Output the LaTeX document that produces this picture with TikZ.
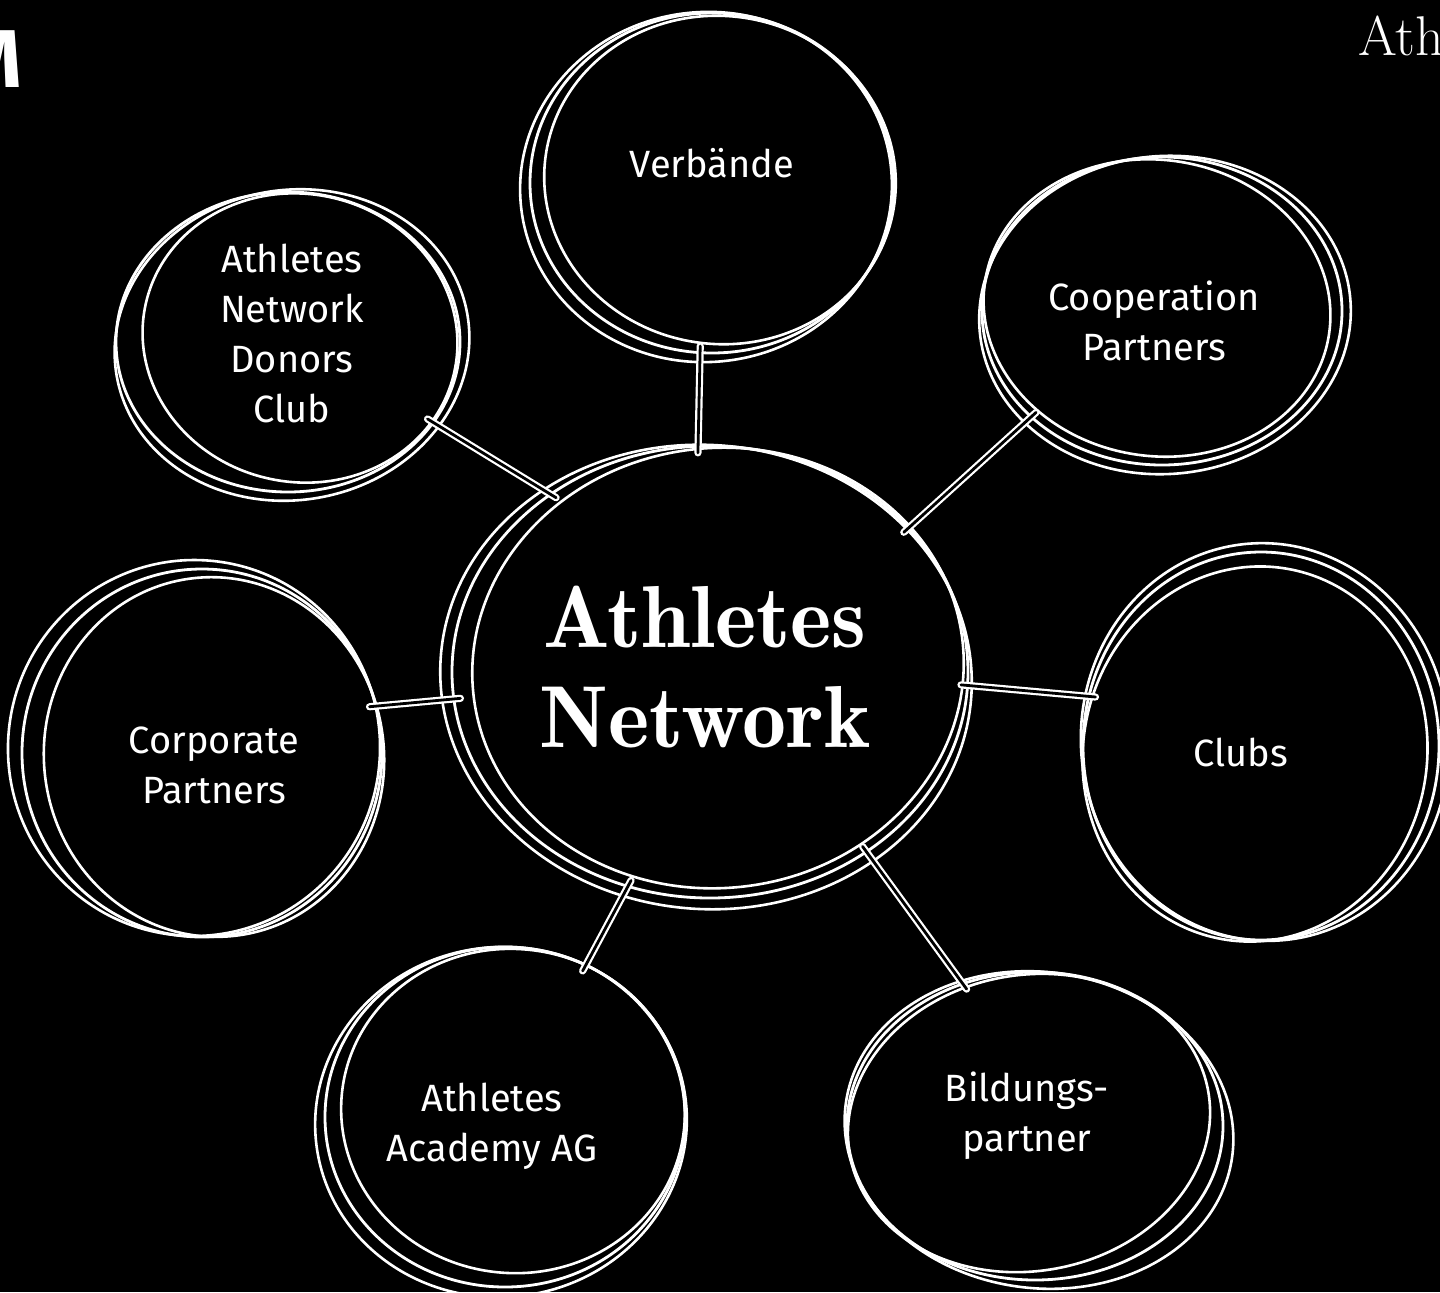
\documentclass[tikz,border=0pt]{standalone}
\usepackage{fontspec}
\setsansfont{Fira Sans}
\newfontfamily\demiserif{lmromandemi10-regular.otf}
\usetikzlibrary{shapes.geometric}
\tikzset{
  bubble/.style={ellipse, draw=white, line width=1.4pt, inner sep=0pt},
  sketch/.style={draw=white, line width=1.3pt},
  tag/.style={text=white, align=center, font=\sffamily\fontsize{19}{25}\selectfont},
  link/.style={draw=white, line width=1.1pt, double=black, double distance=1.4pt, shorten >=-4pt, shorten <=-4pt},
}
\begin{document}
\begin{tikzpicture}[x=0.5pt, y=-0.5pt, line join=round, line cap=round]
  \fill[black] (0,0) rectangle (1440,1292);
  \useasboundingbox (0,0) rectangle (1440,1292);
  \node[anchor=base east, inner sep=0pt, text=white, font=\sffamily\bfseries\fontsize{41}{41}\selectfont] (eco) at (22,87) {M};
  \node[anchor=base west, inner sep=0pt, text=white, font=\fontsize{28}{28}\selectfont] (title) at (1358,55) {Ath};

  \node[bubble, minimum width=258pt, minimum height=226pt, label={[tag, font=\demiserif\fontsize{44}{50}\selectfont, xshift=-2.5pt, yshift=2.5pt]center:Athletes\\Network}] (net) at (710,672) {};
  \node[bubble, minimum width=182pt, minimum height=170pt, label={[tag, yshift=10pt]center:Verbände}] (verb) at (712,183) {};
  \node[bubble, minimum width=172pt, minimum height=150pt, label={[tag, xshift=2pt, yshift=4.5pt]center:Athletes\\Network\\Donors\\Club}] (donors) at (288,342) {};
  \node[bubble, minimum width=180pt, minimum height=154pt, label={[tag, xshift=-4pt, yshift=-5pt]center:Cooperation\\Partners}] (coop) at (1162,311) {};
  \node[bubble, minimum width=180pt, minimum height=184pt, label={[tag, xshift=6pt, yshift=-6pt]center:Corporate\\Partners}] (corp) at (202,753) {};
  \node[bubble, minimum width=178pt, minimum height=194pt, label={[tag, xshift=-10pt, yshift=-3pt]center:Clubs}] (clubs) at (1261,746) {};
  \node[bubble, minimum width=180pt, minimum height=170pt, label={[tag, xshift=-6.5pt, yshift=-4.5pt]center:Athletes\\Academy AG}] (academy) at (505,1117) {};
  \node[bubble, minimum width=188pt, minimum height=154pt, label={[tag, xshift=-4pt, yshift=5pt]center:Bildungs-\\partner}] (bildung) at (1035,1126) {};

  \draw[sketch] ([shift={(-4,5)}]net.center) ellipse [x radius=266, y radius=232, rotate=-5];
  \draw[sketch] ([shift={(8,-4)}]net.center) ellipse [x radius=246, y radius=220, rotate=6];
  \draw[sketch] ([shift={(-6,4)}]verb.center) ellipse [x radius=186, y radius=175, rotate=6];
  \draw[sketch] ([shift={(8,-3)}]verb.center) ellipse [x radius=176, y radius=164, rotate=-8];
  \draw[sketch] ([shift={(4,3)}]donors.center) ellipse [x radius=178, y radius=155, rotate=10];
  \draw[sketch] ([shift={(12,-4)}]donors.center) ellipse [x radius=158, y radius=144, rotate=-12];
  \draw[sketch] ([shift={(3,4)}]coop.center) ellipse [x radius=186, y radius=159, rotate=5];
  \draw[sketch] ([shift={(-5,-3)}]coop.center) ellipse [x radius=174, y radius=148, rotate=-9];
  \draw[sketch] ([shift={(-8,-5)}]corp.center) ellipse [x radius=186, y radius=188, rotate=-6];
  \draw[sketch] ([shift={(12,4)}]corp.center) ellipse [x radius=170, y radius=180, rotate=8];
  \draw[sketch] ([shift={(4,-4)}]clubs.center) ellipse [x radius=184, y radius=199, rotate=6];
  \draw[sketch] ([shift={(-6,8)}]clubs.center) ellipse [x radius=172, y radius=188, rotate=-10];
  \draw[sketch] ([shift={(-4,5)}]academy.center) ellipse [x radius=186, y radius=175, rotate=7];
  \draw[sketch] ([shift={(8,-6)}]academy.center) ellipse [x radius=172, y radius=162, rotate=-7];
  \draw[sketch] ([shift={(4,4)}]bildung.center) ellipse [x radius=195, y radius=158, rotate=-8];
  \draw[sketch] ([shift={(-6,-3)}]bildung.center) ellipse [x radius=182, y radius=148, rotate=10];

  \draw[link] (net.93) -- (verb.-94);
  \draw[link] (net.132) -- (donors.-29);
  \draw[link] (net.36) -- (coop.-141);
  \draw[link] (net.186) -- (corp.15);
  \draw[link] (net.-3) -- (clubs.164);
  \draw[link] (net.-111) -- (academy.62);
  \draw[link] (net.-49) -- (bildung.117);
\end{tikzpicture}
\end{document}
